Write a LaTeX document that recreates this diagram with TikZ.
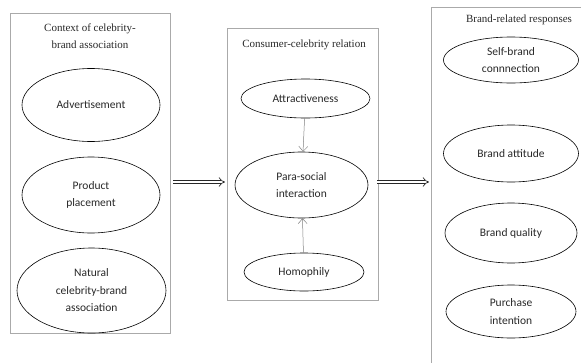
\documentclass[tikz,border=0pt]{standalone}
\usepackage{fontspec}
\setmainfont{Liberation Serif}
\newfontfamily\calib{Carlito}
\usetikzlibrary{arrows.meta}
\usetikzlibrary{shapes.geometric, math}
\definecolor{boxgray}{RGB}{170,170,170}
\definecolor{txtgray}{RGB}{40,40,40}

\tikzset{
 oval/.style={draw=black, line width=0.6pt, ellipse, inner sep=0pt, align=center,
   font=\calib\fontsize{11.5}{17.5}\selectfont, text=txtgray},
 panel/.style={draw=boxgray, line width=0.5pt},
 panelhead/.style={align=center, font=\fontsize{11}{17}\selectfont, text=txtgray},
 thinarrow/.style={draw=gray, line width=0.5pt, -{Straight Barb[length=5pt,width=9pt]}},
 fatarrow/.style={draw=txtgray, line width=0.7pt, double=white, double distance=2.6pt,
   -{Implies[length=4pt]}}
}

\begin{document}
\begin{tikzpicture}[x=1pt,y=-1pt]

\useasboundingbox (0,0) rectangle (581,362);
\clip (0,0) rectangle (581,362);

\tikzmath{
\xl = 91;
\xm = 304;
\xr = 511;
}
%
\draw[panel] (10,13) rectangle (170,333);
\draw[panel] (227,28) rectangle (378,300);
\draw[panel] (431,7) rectangle (600,380);

\node[panelhead] (ctxhead) at (\xl-1,36.5) {Context of celebrity-\\brand association};
\node[panelhead] (relhead) at (\xm,45) {Consumer-celebrity relation};
\node[panelhead] (resphead) at (519,20) {Brand-related responses};

\node[oval, minimum width=138, minimum height=73] (advert) at (\xl,105) {Advertisement};
\node[oval, minimum width=138, minimum height=76] (placement) at (\xl,195) {Product\\placement};
\node[oval, minimum width=149, minimum height=85] (natural) at (\xl+0.5,290.5) {Natural\\celebrity-brand\\association};

\node[oval, minimum width=129, minimum height=39] (attract) at (\xm+1.5,98.5) {Attractiveness};
\node[oval, minimum width=133, minimum height=66] (psi) at (\xm-2.5,185) {Para-social\\interaction};
\node[oval, minimum width=120, minimum height=38] (homo) at (\xm,272) {Homophily};

\foreach \y/\w/\h/\name/\txt in {60/135/46/selfbrand/{Self-brand\\connnection},
  153.5/135/57/attitude/{Brand attitude},
  233/132/60/quality/{Brand quality},
  311.5/130/53/purchase/{Purchase\\intention}}{
  \node[oval, minimum width=\w, minimum height=\h] (\name) at (\xr,\y) {\txt};
}

\draw[thinarrow] (attract) -- (psi);
\draw[thinarrow] (homo) -- (psi);

\coordinate (ctxout) at (173,182);
\coordinate (relin) at (225,182);
\coordinate (relout) at (377,182);
\coordinate (respin) at (429,182);
\draw[fatarrow] (ctxout) -- (relin);
\draw[fatarrow] (relout) -- (respin);

\end{tikzpicture}
\end{document}
